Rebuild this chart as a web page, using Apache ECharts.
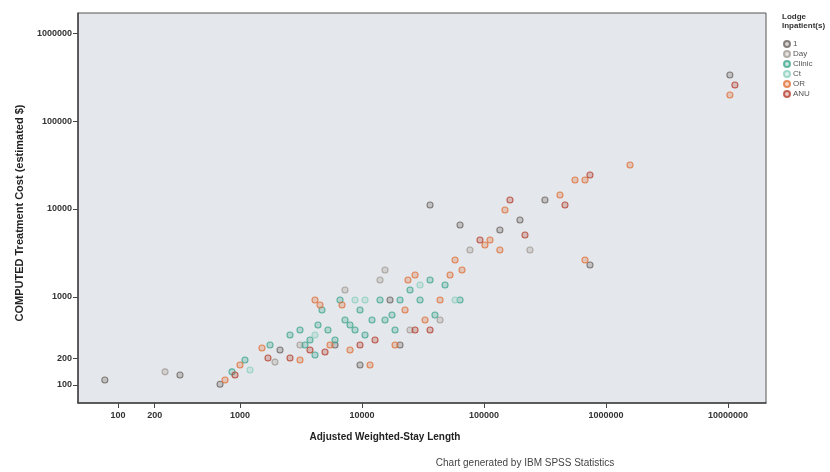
<!DOCTYPE html>
<html>
<head>
<meta charset="utf-8">
<style>
  html, body { margin: 0; padding: 0; background: #ffffff; }
  #chart { width: 830px; height: 472px; }
</style>
<script src="https://cdn.jsdelivr.net/npm/echarts@6/dist/echarts.min.js"></script>
</head>
<body>
<div id="chart"></div>
<script>
// Tick positions on both log axes
const xTicks = [100, 200, 1000, 10000, 100000, 1000000, 10000000];
const yTicks = [100, 200, 1000, 10000, 100000, 1000000];

// Legend groups, in legend order
const groupNames = ['1', 'Day', 'Clinic', 'Ct', 'OR', 'ANU'];
const groupColors = ['#6b6460', '#a39b95', '#3fa68e', '#8ccfbf', '#e0703a', '#b5412f'];

// [stay length, cost] per group
const group1 = [
  [78, 114], [322, 130], [686, 102], [2128, 250], [6010, 285], [9635, 169],
  [16976, 925], [20504, 285], [36127, 11100], [63652, 6580], [135000, 5770],
  [197200, 7500], [316000, 12650], [739600, 2310], [10370000, 333000]
];
const groupDay = [
  [243, 141], [1936, 182], [3103, 285], [7259, 1202], [14055, 1561],
  [15447, 2030], [24765, 422], [43635, 548], [76700, 3420], [238200, 3420]
];
const groupClinic = [
  [860, 141], [1099, 192], [1762, 285], [2570, 370], [3103, 422], [3410, 285],
  [3748, 325], [4359, 481], [4700, 712], [6010, 325], [6605, 925], [7259, 548],
  [7977, 481], [8767, 422], [9635, 712], [10589, 370], [14055, 925], [15447, 548],
  [18657, 422], [20504, 925], [24765, 1202], [29911, 925], [36127, 1561],
  [47955, 1368], [63652, 925], [4119, 219], [5260, 422], [12080, 548],
  [17620, 624], [39630, 624]
];
const groupCt = [
  [1208, 148], [4119, 370], [8767, 925], [10589, 925], [29911, 1368], [57919, 925]
];
const groupOR = [
  [754, 114], [1000, 169], [1514, 263], [4119, 925], [4528, 811], [5469, 285],
  [7977, 250], [11637, 169], [18657, 285], [22534, 712], [27217, 1778],
  [32873, 548], [43635, 925], [52702, 1778], [57919, 2630], [101800, 3900],
  [112000, 4440], [148600, 9750], [419700, 14420], [557000, 21370],
  [673000, 21370], [673000, 2630], [1574000, 31620], [10370000, 197300],
  [3103, 192], [6860, 811], [23820, 1561], [66070, 2030], [135000, 3420]
];
const groupANU = [
  [910, 130], [1696, 203], [3748, 250], [4977, 237], [12789, 325], [36127, 422],
  [92715, 4440], [163300, 12650], [461300, 11100], [739600, 24330],
  [11400000, 256500], [2570, 203], [9635, 285], [27217, 422], [216800, 5070]
];
const groupData = [group1, groupDay, groupClinic, groupCt, groupOR, groupANU];

const FONT = '"Liberation Sans", Arial, sans-serif';

const chart = echarts.init(document.getElementById('chart'), null, { renderer: 'canvas' });

const series = groupNames.map((name, i) => ({
  name: name,
  type: 'scatter',
  data: groupData[i],
  symbol: 'circle',
  symbolSize: 6,
  itemStyle: {
    color: echarts.color.modifyAlpha(groupColors[i], 0.35),
    borderColor: groupColors[i],
    borderWidth: 1.1
  },
  emphasis: { disabled: true }
}));

const axisLabelStyle = { fontFamily: FONT, fontSize: 9, fontWeight: 'bold', color: '#333' };

chart.setOption({
  animation: false,
  backgroundColor: '#ffffff',
  grid: {
    left: 78, right: 64, top: 13, bottom: 69,
    show: true,
    backgroundColor: '#e4e7eb',
    borderColor: '#555555',
    borderWidth: 1
  },
  xAxis: {
    type: 'log',
    logBase: 10,
    min: 47,
    max: 20500000,
    axisLine: { show: true, onZero: false, lineStyle: { color: '#444', width: 1.5 } },
    axisTick: { show: true, customValues: xTicks, length: 5, lineStyle: { color: '#444' } },
    axisLabel: Object.assign({ customValues: xTicks, margin: 8, formatter: v => String(Math.round(v)) }, axisLabelStyle),
    splitLine: { show: false },
    minorTick: { show: false }
  },
  yAxis: {
    type: 'log',
    logBase: 10,
    min: 62.4,
    max: 1690000,
    axisLine: { show: true, onZero: false, lineStyle: { color: '#444', width: 1.5 } },
    axisTick: { show: true, customValues: yTicks, length: 5, lineStyle: { color: '#444' } },
    axisLabel: Object.assign({ customValues: yTicks, margin: 6, formatter: v => String(Math.round(v)) }, axisLabelStyle),
    splitLine: { show: false },
    minorTick: { show: false }
  },
  legend: {
    orient: 'vertical',
    left: 778,
    top: 35,
    itemWidth: 6,
    itemHeight: 6,
    itemGap: 2,
    icon: 'circle',
    data: groupNames,
    textStyle: { fontFamily: FONT, fontSize: 8, color: '#555', padding: [0, 0, 0, -2] }
  },
  graphic: [
    {
      type: 'text', left: 782, top: 12,
      style: { text: 'Lodge\nInpatient(s)', font: 'bold 8px ' + FONT, fill: '#333', lineHeight: 9 }
    },
    {
      type: 'text', x: 385, y: 437,
      style: { text: 'Adjusted Weighted-Stay Length', font: 'bold 10px ' + FONT, fill: '#222', align: 'center', verticalAlign: 'middle' }
    },
    {
      type: 'text', x: 20, y: 213, rotation: Math.PI / 2,
      style: { text: 'COMPUTED Treatment Cost (estimated $)', font: 'bold 11px ' + FONT, fill: '#222', align: 'center', verticalAlign: 'middle' }
    },
    {
      type: 'text', x: 525, y: 463,
      style: { text: 'Chart generated by IBM SPSS Statistics', font: '10px ' + FONT, fill: '#444', align: 'center', verticalAlign: 'middle' }
    }
  ],
  series: series
});
</script>
</body>
</html>
